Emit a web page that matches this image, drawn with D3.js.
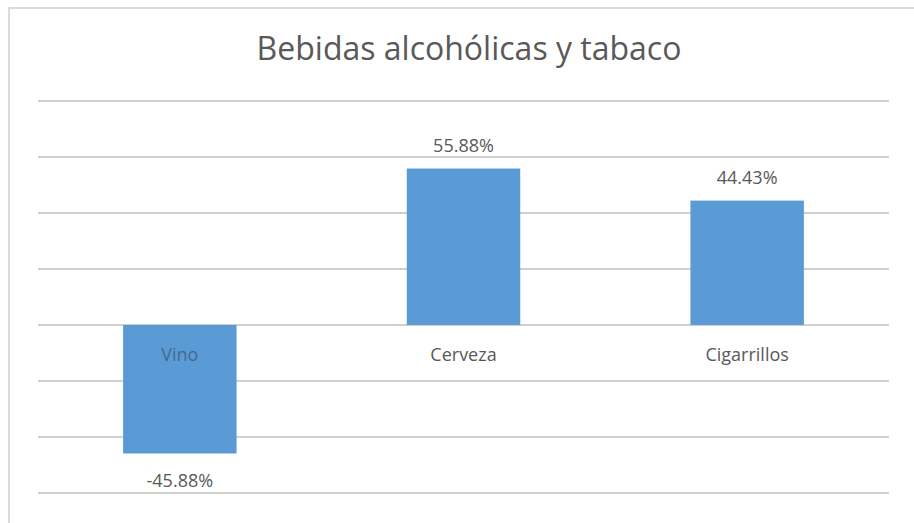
<!DOCTYPE html>
<html>
<head>
<meta charset="utf-8">
<script src="https://cdn.jsdelivr.net/npm/d3@7"></script>
<style>
  body { margin: 0; background: #fff; }
  text { font-family: "Open Sans", "Noto Sans", sans-serif; }
</style>
</head>
<body>
<div id="chart"></div>
<script>
const categories = ["Vino", "Cerveza", "Cigarrillos"];
const values = [-45.88, 55.88, 44.43];
const labels = ["-45.88%", "55.88%", "44.43%"];
const gridTicks = [-60, -40, -20, 0, 20, 40, 60, 80];

const W = 914, H = 523;
const margin = { top: 101, right: 25, bottom: 30, left: 38 };
const width = W - margin.left - margin.right;
const height = 493 - margin.top;

const svg = d3.select("#chart").append("svg")
  .attr("width", W)
  .attr("height", H);

// chart frame (only top and left edges visible in the source)
svg.append("path")
  .attr("d", `M9,${H} L9,8 L${W},8`)
  .attr("fill", "none")
  .attr("stroke", "#d0d0d0")
  .attr("stroke-width", 1.5);

svg.append("text")
  .attr("x", 469)
  .attr("y", 60)
  .attr("text-anchor", "middle")
  .attr("font-size", 32)
  .attr("fill", "#595959")
  .text("Bebidas alcohólicas y tabaco");

const g = svg.append("g")
  .attr("transform", `translate(${margin.left},${margin.top})`);

const x = d3.scaleBand()
  .domain(categories)
  .range([0, width])
  .paddingInner(0.6)
  .paddingOuter(0.3);

const y = d3.scaleLinear()
  .domain([-60, 80])
  .range([height, 0]);

g.append("g")
  .selectAll("line")
  .data(gridTicks)
  .enter().append("line")
  .attr("x1", 0)
  .attr("x2", width)
  .attr("y1", d => y(d))
  .attr("y2", d => y(d))
  .attr("stroke", "#bfbfbf")
  .attr("stroke-width", 1.5);

g.selectAll("rect.bar")
  .data(values)
  .enter().append("rect")
  .attr("class", "bar")
  .attr("x", (d, i) => x(categories[i]))
  .attr("width", x.bandwidth())
  .attr("y", d => y(Math.max(0, d)))
  .attr("height", d => Math.abs(y(d) - y(0)))
  .attr("fill", "#5b9bd5");

// value labels
g.selectAll("text.val")
  .data(values)
  .enter().append("text")
  .attr("class", "val")
  .attr("x", (d, i) => x(categories[i]) + x.bandwidth() / 2)
  .attr("y", d => d >= 0 ? y(d) - 17 : y(d) + 34)
  .attr("text-anchor", "middle")
  .attr("font-size", 18)
  .attr("fill", "#595959")
  .text((d, i) => labels[i]);

// category labels just below the zero line
g.selectAll("text.cat")
  .data(categories)
  .enter().append("text")
  .attr("class", "cat")
  .attr("x", d => x(d) + x.bandwidth() / 2)
  .attr("y", y(0) + 36)
  .attr("text-anchor", "middle")
  .attr("font-size", 18)
  .attr("fill", (d, i) => values[i] < 0 ? "#44698f" : "#595959")
  .text(d => d);
</script>
</body>
</html>
